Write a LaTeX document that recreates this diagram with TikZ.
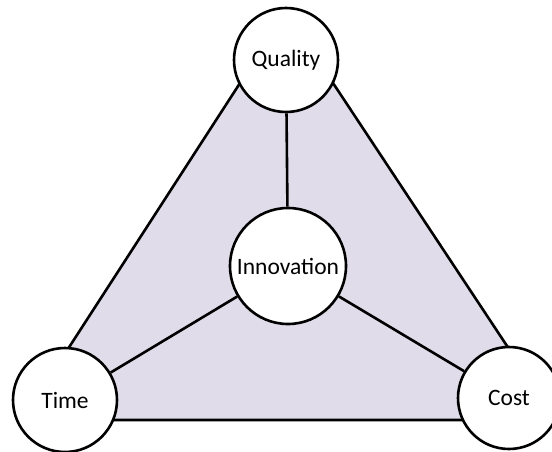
\documentclass[tikz,border=0pt]{standalone}
\usepackage{fontspec}
\setmainfont{Carlito}
\definecolor{trifill}{HTML}{E0DCEA}
\begin{document}
\begin{tikzpicture}[x=1pt,y=-1pt,
  circ/.style={circle,draw=black,line width=2.6pt,fill=white,inner sep=0pt,font=\fontsize{23.5}{25}\selectfont},
  link/.style={line width=2.6pt}]
\useasboundingbox (0,0) rectangle (552,452);
\begin{scope}
\clip (0,0) rectangle (552,452);
\coordinate (A) at (286,12);
\coordinate (B) at (22,420);
\coordinate (C) at (556,420);
\filldraw[fill=trifill,draw=black,line width=2.6pt,line join=round] (A) -- (B) -- (C) -- cycle;
\node[circ,minimum size=104pt] (q) at (286,60) {Quality};
\node[circ,minimum size=116pt] (i) at (288,266) {Innovation};
\node[circ,minimum size=104pt] (t) at (65,400) {Time};
\node[circ,minimum size=102pt] (c) at (509,398) {Cost};
\draw[link] (q) -- (i);
\draw[link] (i) -- (t);
\draw[link] (i) -- (c);
\end{scope}
\end{tikzpicture}
\end{document}
